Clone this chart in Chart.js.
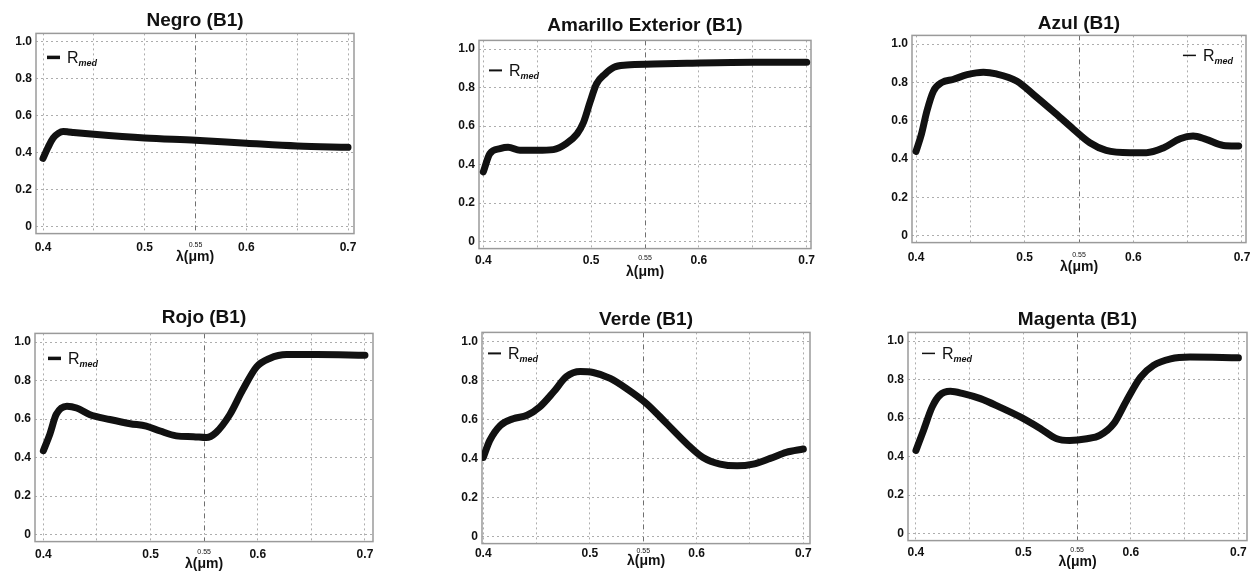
<!DOCTYPE html>
<html><head><meta charset="utf-8">
<script src="https://cdn.jsdelivr.net/npm/chart.js@4.4.1/dist/chart.umd.min.js"></script>
<style>
html,body{margin:0;padding:0;background:#fff;width:1257px;height:575px;overflow:hidden;position:relative}
canvas{position:absolute;display:block}
</style></head><body>
<script>
// ---- data ----
const xTicks = [0.4, 0.45, 0.5, 0.55, 0.6, 0.65, 0.7];
const xTickLabels = ['0.4', '', '0.5', '0.55', '0.6', '', '0.7'];
const yTicks = [0, 0.2, 0.4, 0.6, 0.8, 1.0];
const yTickLabels = ['0', '0.2', '0.4', '0.6', '0.8', '1.0'];
const xAxisTitle = 'λ(μm)';
const legendMain = 'R';
const legendSub = 'med';

const negroWl = [0.400,0.405,0.410,0.415,0.420,0.425,0.430,0.450,0.500,0.550,0.600,0.650,0.700];
const negroR  = [0.370,0.430,0.480,0.505,0.515,0.513,0.510,0.500,0.480,0.468,0.452,0.437,0.430];

const amarilloWl = [0.400,0.406,0.4155,0.423,0.434,0.450,0.465,0.477,0.487,0.493,0.499,0.505,0.513,0.521,0.533,0.558,0.589,0.651,0.700];
const amarilloR  = [0.362,0.457,0.483,0.490,0.474,0.474,0.478,0.509,0.560,0.620,0.724,0.819,0.871,0.905,0.917,0.922,0.926,0.931,0.931];

const azulWl = [0.400,0.405,0.410,0.416,0.424,0.434,0.447,0.462,0.474,0.493,0.508,0.526,0.545,0.560,0.575,0.597,0.612,0.628,0.643,0.655,0.667,0.683,0.697];
const azulR  = [0.440,0.530,0.650,0.754,0.800,0.815,0.840,0.853,0.844,0.806,0.737,0.650,0.555,0.485,0.445,0.433,0.433,0.459,0.506,0.520,0.503,0.471,0.468];

const rojoWl = [0.400,0.406,0.412,0.422,0.431,0.443,0.462,0.481,0.496,0.509,0.524,0.540,0.552,0.561,0.574,0.586,0.599,0.611,0.627,0.655,0.700];
const rojoR  = [0.436,0.521,0.624,0.667,0.658,0.624,0.598,0.576,0.564,0.538,0.513,0.509,0.504,0.530,0.624,0.752,0.872,0.915,0.935,0.935,0.932];

const verdeWl = [0.400,0.406,0.416,0.428,0.441,0.453,0.466,0.478,0.491,0.503,0.519,0.534,0.553,0.572,0.591,0.606,0.622,0.638,0.653,0.669,0.684,0.700];
const verdeR  = [0.405,0.491,0.569,0.603,0.621,0.664,0.741,0.819,0.845,0.840,0.810,0.759,0.681,0.578,0.474,0.405,0.371,0.362,0.371,0.400,0.431,0.448];

const magentaWl = [0.400,0.407,0.415,0.422,0.432,0.444,0.460,0.478,0.497,0.516,0.531,0.543,0.559,0.571,0.584,0.596,0.609,0.621,0.637,0.655,0.700];
const magentaR  = [0.432,0.536,0.657,0.718,0.739,0.727,0.701,0.657,0.606,0.545,0.493,0.484,0.493,0.510,0.571,0.692,0.813,0.874,0.908,0.917,0.913];

const titles = ['Negro (B1)', 'Amarillo Exterior (B1)', 'Azul (B1)', 'Rojo (B1)', 'Verde (B1)', 'Magenta (B1)'];

// ---- layout (plot box in page pixels) ----
const panels = [
  {title:titles[0], wl:negroWl, r:negroR, box:[36,33,354,233], titleY:20, tickPad:7, axisTitleY:257, xMin:0.3931, xMax:0.7059, leg:{side:'left', dx:11, dy:24, lw:3.5}},
  {title:titles[1], wl:amarilloWl, r:amarilloR, box:[479,40,811,248], titleY:25, tickPad:5, axisTitleY:272, xMin:0.396, xMax:0.704, leg:{side:'left', dx:10, dy:30, lw:2}},
  {title:titles[2], wl:azulWl, r:azulR, box:[912,35,1246,242], titleY:23, tickPad:8, axisTitleY:267, xMin:0.3963, xMax:0.7037, leg:{side:'right', dx:13, dy:20, lw:1.5}},
  {title:titles[3], wl:rojoWl, r:rojoR, box:[35,333,373,541], titleY:317, tickPad:6, axisTitleY:564, xMin:0.3922, xMax:0.7075, leg:{side:'left', dx:13, dy:25, lw:3.5}},
  {title:titles[4], wl:verdeWl, r:verdeR, box:[482,332,810,543], titleY:319, tickPad:3, axisTitleY:561, xMin:0.3988, xMax:0.7063, leg:{side:'left', dx:6, dy:21, lw:2}},
  {title:titles[5], wl:magentaWl, r:magentaR, box:[908,332,1247,540], titleY:319, tickPad:5, axisTitleY:562, xMin:0.3926, xMax:0.708, leg:{side:'left', dx:14, dy:21, lw:1.5}}
];

const FONT = '"Liberation Sans", Arial, Helvetica, sans-serif';
Chart.defaults.font.family = FONT;
Chart.defaults.color = '#111';

const YW = 34, RP = 16, TFS = 19, XTFS = 14;

panels.forEach((p, k) => {
  const [bl, bt, br, bb] = p.box;
  const tLH = TFS * 1.2;
  const left = bl - YW;
  const top = p.titleY - tLH / 2;
  const width = br + RP - left;
  const xH = p.axisTitleY - bb + XTFS * 1.2 / 2;
  const height = bb + xH - top;
  const cv = document.createElement('canvas');
  cv.width = Math.round(width); cv.height = Math.round(height);
  cv.style.left = left + 'px'; cv.style.top = top + 'px';
  cv.style.width = Math.round(width) + 'px'; cv.style.height = Math.round(height) + 'px';
  document.body.appendChild(cv);

  const framePlugin = {
    id: 'frame' + k,
    beforeDatasetsDraw(chart) {
      const {ctx, chartArea: a} = chart;
      ctx.save();
      ctx.strokeStyle = '#9a9a9a';
      ctx.lineWidth = 1.5;
      ctx.strokeRect(a.left, a.top, a.right - a.left, a.bottom - a.top);
      ctx.restore();
    },
    afterDraw(chart) {
      const {ctx, chartArea: a} = chart;
      const L = p.leg;
      ctx.save();
      ctx.font = '16px ' + FONT;
      const wR = ctx.measureText(legendMain).width;
      ctx.font = 'italic bold 9px ' + FONT;
      const wS = ctx.measureText(legendSub).width;
      const total = 13 + 7 + wR + wS;
      const x0 = L.side === 'left' ? a.left + L.dx : a.right - L.dx - total;
      const y0 = a.top + L.dy;
      ctx.strokeStyle = '#111';
      ctx.lineWidth = L.lw;
      ctx.beginPath(); ctx.moveTo(x0, y0); ctx.lineTo(x0 + 13, y0); ctx.stroke();
      ctx.fillStyle = '#111';
      ctx.textBaseline = 'alphabetic';
      ctx.font = '16px ' + FONT;
      ctx.fillText(legendMain, x0 + 20, y0 + 6);
      ctx.font = 'italic bold 9px ' + FONT;
      ctx.fillText(legendSub, x0 + 20 + wR, y0 + 8.5);
      ctx.restore();
    }
  };

  new Chart(cv, {
    type: 'line',
    data: {
      datasets: [{
        label: legendMain + legendSub,
        data: p.wl.map((x, i) => ({x: x, y: p.r[i]})),
        borderColor: '#111',
        borderWidth: 7,
        pointRadius: 0,
        fill: false,
        cubicInterpolationMode: 'monotone',
        borderCapStyle: 'round',
        borderJoinStyle: 'round'
      }]
    },
    options: {
      responsive: false,
      devicePixelRatio: 1,
      animation: false,
      layout: {padding: {left: 0, right: RP, top: 0, bottom: 0}},
      plugins: {
        legend: {display: false},
        tooltip: {enabled: false},
        title: {
          display: true, text: p.title, fullSize: false, align: 'center',
          font: {size: TFS, weight: 'bold'}, color: '#111',
          padding: {top: 0, bottom: bt - p.titleY - tLH / 2}
        }
      },
      scales: {
        x: {
          type: 'linear', min: p.xMin, max: p.xMax,
          afterBuildTicks: s => { s.ticks = xTicks.map(v => ({value: v})); },
          afterFit: s => { s.height = xH; },
          ticks: {
            autoSkip: false, maxRotation: 0, minRotation: 0, padding: p.tickPad, color: '#111',
            callback: (v, i) => xTickLabels[i],
            font: c => (c.index === 3 ? {size: 7, weight: 'normal'} : {size: 12, weight: 'bold'})
          },
          grid: {
            drawTicks: false, lineWidth: 1,
            color: c => (c.index === 3 ? '#6f6f6f' : '#adadad')
          },
          border: {display: false, dash: c => (c.index === 3 ? [5, 3, 1, 3] : [2, 3])},
          title: {display: true, text: xAxisTitle, color: '#111', font: {size: XTFS, weight: 'bold'}, padding: {top: 0, bottom: 0}}
        },
        y: {
          type: 'linear', min: -0.036, max: 1.045,
          afterBuildTicks: s => { s.ticks = yTicks.map(v => ({value: v})); },
          afterFit: s => { s.width = YW; },
          ticks: {padding: 4, color: '#111', font: {size: 12, weight: 'bold'}, callback: (v, i) => yTickLabels[i]},
          grid: {drawTicks: false, lineWidth: 1, color: '#adadad'},
          border: {display: false, dash: [2, 3]}
        }
      }
    },
    plugins: [framePlugin]
  });
});
</script>
</body></html>
